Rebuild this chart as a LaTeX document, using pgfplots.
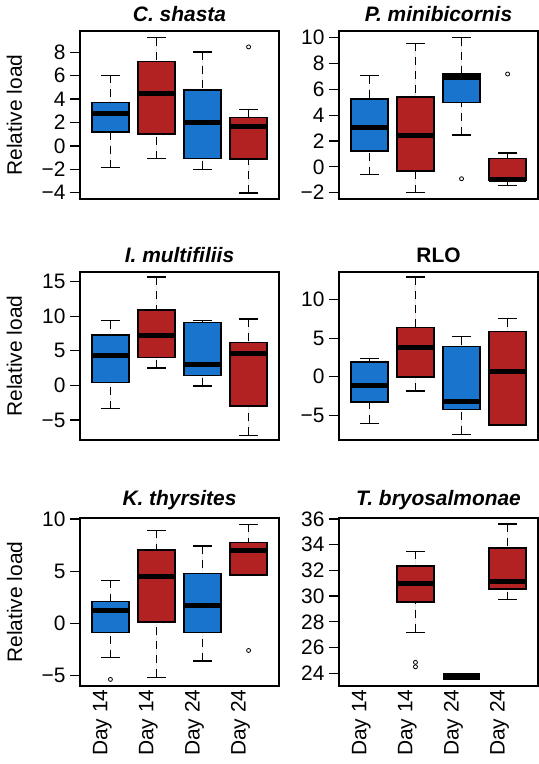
\documentclass[border=0pt]{standalone}
\usepackage{fontspec}
\setmainfont{Liberation Sans}
\usepackage{pgfplots}
\pgfplotsset{compat=1.18}
\usepgfplotslibrary{statistics}
\definecolor{cblue}{RGB}{24,116,205}
\definecolor{cred}{RGB}{178,34,34}
\pgfplotsset{
  boxplot/draw/lower whisker/.code={%
    \draw[line width=1.4bp, dash pattern=on 8bp off 6bp]
      (boxplot box cs:\pgfplotsboxplotvalue{lower whisker},0.5) -- (boxplot box cs:\pgfplotsboxplotvalue{lower quartile},0.5);
    \draw[line width=1.4bp, solid]
      (boxplot whisker cs:\pgfplotsboxplotvalue{lower whisker},0) -- (boxplot whisker cs:\pgfplotsboxplotvalue{lower whisker},1);
  },
  boxplot/draw/upper whisker/.code={%
    \draw[line width=1.4bp, dash pattern=on 8bp off 6bp]
      (boxplot box cs:\pgfplotsboxplotvalue{upper whisker},0.5) -- (boxplot box cs:\pgfplotsboxplotvalue{upper quartile},0.5);
    \draw[line width=1.4bp, solid]
      (boxplot whisker cs:\pgfplotsboxplotvalue{upper whisker},0) -- (boxplot whisker cs:\pgfplotsboxplotvalue{upper whisker},1);
  },
  myax/.style={
    scale only axis, width=199bp, height=168bp,
    xmin=0.34, xmax=4.66,
    axis line style={line width=1.4bp},
    tick style={line width=1.3bp, black},
    tick align=outside, major tick length=10bp,
    ytick pos=left, xtick=\empty,
    tick label style={font=\fontsize{21}{25}\selectfont},
    y tick label style={xshift=-1bp},
    title style={font=\fontsize{21}{25}\selectfont\bfseries\itshape, at={(0.5,1)}, anchor=base, yshift=4bp},
    boxplot/draw direction=y,
    boxplot/box extend=0.8, boxplot/whisker extend=0.4,
    boxplot/every median/.style={line width=5bp},
    clip=false,
  },
  ylab/.style={ylabel={Relative load}, every axis y label/.style={at={([xshift=-58bp]rel axis cs:0,0.5)}, rotate=90, anchor=base, font=\fontsize{21}{25}\selectfont}},
  xlab/.style={xtick={1,2,3,4}, xticklabels={Day 14,Day 14,Day 24,Day 24}, xtick style={draw=none},
     x tick label style={yshift=10bp, xshift=-3bp, rotate=90, anchor=base east, font=\fontsize{21}{25}\selectfont}},
  bx/.style={draw=black, line width=1.5bp, fill=#1, mark=o, mark size=2bp, mark options={solid, line width=0.8bp, draw=black, fill=none}},
}
\begin{document}
\begin{tikzpicture}
\useasboundingbox (0,0) rectangle (539bp,-764bp);
% Panel 1
\begin{axis}[myax, ylab, at={(80bp,-199bp)}, anchor=south west,
  ymin=-4.54, ymax=9.82, ytick={-4,-2,0,2,4,6,8}, yticklabels={−4,−2,0,2,4,6,8},
  title={C. shasta}]
\addplot[bx=cblue, boxplot prepared={draw position=1, lower whisker=-1.86, lower quartile=1.2, median=2.77, upper quartile=3.69, upper whisker=6.03}] coordinates {};
\addplot[bx=cred, boxplot prepared={draw position=2, lower whisker=-1.09, lower quartile=1.0, median=4.49, upper quartile=7.23, upper whisker=9.26}] coordinates {};
\addplot[bx=cblue, boxplot prepared={draw position=3, lower whisker=-2.0, lower quartile=-1.09, median=2.0, upper quartile=4.77, upper whisker=8.03}] coordinates {};
\addplot[bx=cred, boxplot prepared={draw position=4, lower whisker=-4.03, lower quartile=-1.11, median=1.69, upper quartile=2.43, upper whisker=3.11}] coordinates {(4,8.46)};
\end{axis}
% Panel 2
\begin{axis}[myax, at={(339bp,-199bp)}, anchor=south west,
  ymin=-2.49, ymax=10.52, ytick={-2,0,2,4,6,8,10}, yticklabels={−2,0,2,4,6,8,10},
  title={P. minibicornis}]
\addplot[bx=cblue, boxplot prepared={draw position=1, lower whisker=-0.6, lower quartile=1.23, median=3.03, upper quartile=5.25, upper whisker=7.06}] coordinates {};
\addplot[bx=cred, boxplot prepared={draw position=2, lower whisker=-2.0, lower quartile=-0.32, median=2.46, upper quartile=5.41, upper whisker=9.56}] coordinates {};
\addplot[bx=cblue, boxplot prepared={draw position=3, lower whisker=2.46, lower quartile=4.97, median=6.95, upper quartile=7.19, upper whisker=10.0}] coordinates {(3,-0.92)};
\addplot[bx=cred, boxplot prepared={draw position=4, lower whisker=-1.43, lower quartile=-1.05, median=-0.97, upper quartile=0.63, upper whisker=1.07}] coordinates {(4,7.19)};
\end{axis}
% Panel 3
\begin{axis}[myax, ylab, at={(80bp,-440bp)}, anchor=south west,
  ymin=-7.9, ymax=16.39, ytick={-5,0,5,10,15}, yticklabels={−5,0,5,10,15},
  title={I. multifiliis}]
\addplot[bx=cblue, boxplot prepared={draw position=1, lower whisker=-3.35, lower quartile=0.39, median=4.37, upper quartile=7.28, upper whisker=9.37}] coordinates {};
\addplot[bx=cred, boxplot prepared={draw position=2, lower whisker=2.52, lower quartile=4.03, median=7.23, upper quartile=10.92, upper whisker=15.68}] coordinates {};
\addplot[bx=cblue, boxplot prepared={draw position=3, lower whisker=-0.1, lower quartile=1.41, median=3.06, upper quartile=9.08, upper whisker=9.37}] coordinates {};
\addplot[bx=cred, boxplot prepared={draw position=4, lower whisker=-7.23, lower quartile=-2.96, median=4.66, upper quartile=6.17, upper whisker=9.61}] coordinates {};
\end{axis}
% Panel 4
\begin{axis}[myax, at={(339bp,-440bp)}, anchor=south west,
  ymin=-8.21, ymax=13.6, ytick={-5,0,5,10}, yticklabels={−5,0,5,10},
  title={\upshape RLO}]
\addplot[bx=cblue, boxplot prepared={draw position=1, lower whisker=-6.06, lower quartile=-3.29, median=-1.13, upper quartile=1.9, upper whisker=2.34}] coordinates {};
\addplot[bx=cred, boxplot prepared={draw position=2, lower whisker=-1.86, lower quartile=-0.04, median=3.81, upper quartile=6.4, upper whisker=12.94}] coordinates {};
\addplot[bx=cblue, boxplot prepared={draw position=3, lower whisker=-7.49, lower quartile=-4.24, median=-3.25, upper quartile=3.94, upper whisker=5.19}] coordinates {};
\addplot[bx=cred, boxplot prepared={draw position=4, lower whisker=-6.28, lower quartile=-6.28, median=0.74, upper quartile=5.89, upper whisker=7.53}] coordinates {};
\end{axis}
% Panel 5
\begin{axis}[myax, ylab, xlab, at={(80bp,-686bp)}, anchor=south west,
  ymin=-5.98, ymax=10.09, ytick={-5,0,5,10}, yticklabels={−5,0,5,10},
  title={K. thyrsites}, title style={yshift=3bp}]
\addplot[bx=cblue, boxplot prepared={draw position=1, lower whisker=-3.28, lower quartile=-0.86, median=1.21, upper quartile=2.10, upper whisker=4.14}] coordinates {(1,-5.35)};
\addplot[bx=cred, boxplot prepared={draw position=2, lower whisker=-5.16, lower quartile=0.16, median=4.46, upper quartile=7.04, upper whisker=8.92}] coordinates {};
\addplot[bx=cblue, boxplot prepared={draw position=3, lower whisker=-3.6, lower quartile=-0.86, median=1.72, upper quartile=4.78, upper whisker=7.42}] coordinates {};
\addplot[bx=cred, boxplot prepared={draw position=4, lower whisker=4.65, lower quartile=4.65, median=6.94, upper quartile=7.77, upper whisker=9.49}] coordinates {(4,-2.58)};
\end{axis}
% Panel 6
\begin{axis}[myax, xlab, at={(339bp,-686bp)}, anchor=south west,
  ymin=23.01, ymax=36.07, ytick={24,26,28,30,32,34,36}, yticklabels={24,26,28,30,32,34,36},
  title={T. bryosalmonae}, title style={yshift=3bp}]
\addplot[bx=cred, boxplot prepared={draw position=2, lower whisker=27.18, lower quartile=29.56, median=30.98, upper quartile=32.33, upper whisker=33.47}] coordinates {(2,24.5) (2,24.85)};
\addplot[bx=cblue, boxplot/every median/.style={line width=7bp}, boxplot prepared={draw position=3, lower whisker=23.77, lower quartile=23.77, median=23.77, upper quartile=23.77, upper whisker=23.77}] coordinates {};
\addplot[bx=cred, boxplot prepared={draw position=4, lower whisker=29.72, lower quartile=30.54, median=31.11, upper quartile=33.75, upper whisker=35.61}] coordinates {};
\end{axis}
\end{tikzpicture}
\end{document}
